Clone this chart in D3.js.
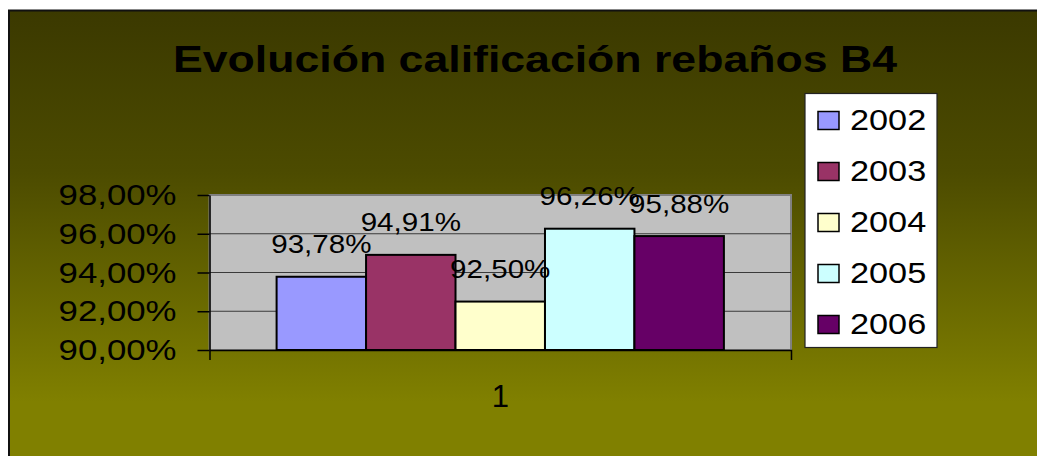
<!DOCTYPE html>
<html>
<head>
<meta charset="utf-8">
<script src="https://cdn.jsdelivr.net/npm/d3@7"></script>
<style>
  body { margin: 0; background: #fff; }
  svg { display: block; font-family: "Liberation Sans", Arial, sans-serif; }
</style>
</head>
<body>
<svg width="1037" height="456"></svg>
<script>
var svg = d3.select('svg');

// Chart data
var categories = ['1'];
var years = ['2002', '2003', '2004', '2005', '2006'];
var values = [93.78, 94.91, 92.50, 96.26, 95.88];
var colors = ['#9999ff', '#993366', '#ffffcc', '#ccffff', '#660066'];
var yTicks = [90, 92, 94, 96, 98];

var plot = {l: 209.5, r: 791, t: 195, b: 350};
var stretch = 1.16; // text in the source is a bit wider than plain Arial

function pct(v){ return d3.format('.2f')(v).replace('.', ',') + '%'; }

// background with the dark-to-olive gradient
var grad = svg.append('defs').append('linearGradient')
    .attr('id','bg')
    .attr('x1',0).attr('y1',0).attr('x2',0).attr('y2',1);
grad.append('stop').attr('offset','0').attr('stop-color','#3b3900');
grad.append('stop').attr('offset','0.35').attr('stop-color','#4c4b00');
grad.append('stop').attr('offset','0.85').attr('stop-color','#808000');
grad.append('stop').attr('offset','1').attr('stop-color','#808000');

svg.append('rect')
    .attr('x',9).attr('y',10.5)
    .attr('width',1040).attr('height',460)
    .attr('fill','url(#bg)')
    .attr('stroke','#111')
    .attr('stroke-width',2);

// Title
svg.append('text')
    .attr('text-anchor','middle')
    .attr('transform','translate(535,71.5) scale(1.19,1)')
    .style('font-size','37.5px')
    .style('font-weight','bold')
    .attr('fill','#000')
    .text('Evolución calificación rebaños B4');

// Scales
var x0 = d3.scaleBand().domain(categories).range([plot.l, plot.r])
    .paddingInner(0).paddingOuter(0.15);
var x1 = d3.scaleBand().domain(years).range([0, x0.bandwidth()]).padding(0);
var y = d3.scaleLinear().domain([90, 98]).range([plot.b, plot.t]);

// plot area
svg.append('rect')
    .attr('x',plot.l).attr('y',plot.t)
    .attr('width',plot.r-plot.l).attr('height',plot.b-plot.t)
    .attr('fill','#c0c0c0')
    .attr('stroke','#808080')
    .attr('stroke-width',2);

// gridlines
svg.append('g')
    .selectAll('line')
    .data(yTicks.filter(function(d){ return d > 90 && d < 98; }))
    .enter().append('line')
    .attr('x1',plot.l).attr('x2',plot.r)
    .attr('y1',function(d){ return y(d); })
    .attr('y2',function(d){ return y(d); })
    .attr('stroke','#3a3a3a')
    .attr('stroke-width',1.2);

// bars
var group = svg.append('g')
    .attr('transform','translate('+x0(categories[0])+',0)');

group.selectAll('rect')
    .data(values)
    .enter().append('rect')
    .attr('x',function(d,i){ return x1(years[i]); })
    .attr('y',function(d){ return y(d); })
    .attr('width',x1.bandwidth())
    .attr('height',function(d){ return plot.b - y(d); })
    .attr('fill',function(d,i){ return colors[i]; })
    .attr('stroke','#000')
    .attr('stroke-width',2);

// data labels
group.selectAll('text')
    .data(values)
    .enter().append('text')
    .attr('text-anchor','middle')
    .attr('transform',function(d,i){
        return 'translate('+(x1(years[i])+x1.bandwidth()/2)+','+(y(d)-23.5)+') scale('+stretch+',1)';
    })
    .style('font-size','25.5px')
    .attr('fill','#000')
    .text(function(d){ return pct(d); });

// y axis
var yAxis = svg.append('g')
    .attr('transform','translate('+plot.l+',0)')
    .call(d3.axisLeft(y).tickValues(yTicks).tickSizeInner(12).tickSizeOuter(0).tickFormat(pct));
yAxis.selectAll('line,path').attr('stroke','#000').attr('stroke-width',1.5);
yAxis.selectAll('text')
    .attr('x',null)
    .attr('transform','translate(-33,0) scale('+stretch+',1)')
    .attr('fill','#000')
    .style('font-size','30px')
    .style('font-family','"Liberation Sans", Arial, sans-serif');

// x axis
var xAxis = svg.append('g')
    .attr('transform','translate(0,'+plot.b+')')
    .call(d3.axisBottom(x0).tickSizeInner(0).tickSizeOuter(10).tickPadding(35));
xAxis.selectAll('path').attr('stroke','#000').attr('stroke-width',1.5);
xAxis.selectAll('text')
    .attr('fill','#000')
    .style('font-size','31px')
    .style('font-family','"Liberation Sans", Arial, sans-serif');

// legend
var legend = svg.append('g').attr('transform','translate(805,93.5)');
legend.append('rect')
    .attr('width',132).attr('height',254)
    .attr('fill','#fff')
    .attr('stroke','#222')
    .attr('stroke-width',1.2);

var item = legend.selectAll('g.item')
    .data(years)
    .enter().append('g')
    .attr('class','item')
    .attr('transform',function(d,i){ return 'translate(0,'+(36+i*51)+')'; });
item.append('rect')
    .attr('x',13).attr('y',-18)
    .attr('width',21).attr('height',18)
    .attr('fill',function(d,i){ return colors[i]; })
    .attr('stroke','#000')
    .attr('stroke-width',1.5);
item.append('text')
    .attr('transform','translate(45,0) scale(1.17,1)')
    .style('font-size','29.3px')
    .attr('fill','#000')
    .text(function(d){ return d; });
</script>
</body>
</html>
